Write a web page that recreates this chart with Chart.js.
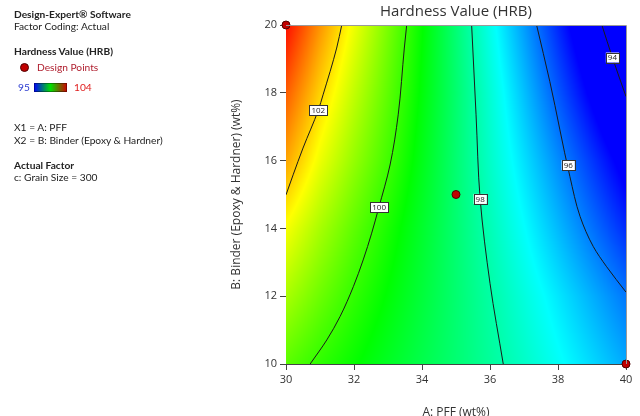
<!DOCTYPE html>
<html>
<head>
<meta charset="utf-8">
<script src="https://cdn.jsdelivr.net/npm/chart.js@4.4.1/dist/chart.umd.min.js"></script>
<style>
    html, body { margin: 0; padding: 0; width: 640px; height: 416px; overflow: hidden; background: #fff; }
    #wrap { position: relative; width: 640px; height: 424px; }
    #chart { position: absolute; left: 0; top: 0; }
    .side { position: absolute; left: 14px; font-family: Lato, "Open Sans", sans-serif; font-size: 10.2px; color: #222; white-space: nowrap; line-height: 12px; }
    .side b { font-weight: 700; }
    .dot { position: absolute; width: 9px; height: 9px; border-radius: 50%; background: #c00000; border: 1px solid #500000; box-sizing: border-box; }
    .bar { position: absolute; width: 33px; height: 9px; background: linear-gradient(90deg, #0000ff, #00e000 50%, #d00000); box-shadow: inset 0 0 0 1px rgba(0,0,0,0.35); }
</style>
</head>
<body>
<div id="wrap">
    <canvas id="chart" width="640" height="424"></canvas>
    <div class="side" style="top:8px"><b>Design-Expert® Software</b></div>
    <div class="side" style="top:20px">Factor Coding: Actual</div>
    <div class="side" style="top:45px"><b>Hardness Value (HRB)</b></div>
    <div class="dot" style="left:20px; top:63px"></div>
    <div class="side" style="top:61px; left:37px; color:#b02030">Design Points</div>
    <div class="side" style="top:81px; left:18px; color:#2a3ad0">95</div>
    <div class="bar" style="left:34px; top:83px"></div>
    <div class="side" style="top:81px; left:74px; color:#e02020">104</div>
    <div class="side" style="top:121px">X1 = A: PFF</div>
    <div class="side" style="top:134px">X2 = B: Binder (Epoxy &amp; Hardner)</div>
    <div class="side" style="top:159px"><b>Actual Factor</b></div>
    <div class="side" style="top:171px">c: Grain Size = 300</div>
</div>
<script>
// Response grid: hardness (HRB) at A = 30..40, rows for B = 10..20
const gridX = [30, 31, 32, 33, 34, 35, 36, 37, 38, 39, 40];
const gridY = [10, 12, 14, 16, 18, 20];
const hardness = [
    [100.30, 99.90, 99.55, 99.19, 98.84, 98.50, 98.14, 97.75, 97.33, 96.92, 96.50],
    [101.00, 100.45, 99.93, 99.46, 98.99, 98.52, 98.05, 97.55, 97.05, 96.55, 96.05],
    [101.70, 100.98, 100.33, 99.72, 99.12, 98.51, 97.90, 97.27, 96.64, 96.01, 95.37],
    [102.55, 101.60, 100.81, 100.07, 99.29, 98.51, 97.74, 96.99, 96.24, 95.49, 94.74],
    [103.20, 102.15, 101.21, 100.33, 99.43, 98.54, 97.63, 96.70, 95.77, 94.87, 93.96],
    [103.90, 102.70, 101.62, 100.58, 99.53, 98.48, 97.43, 96.39, 95.34, 94.30, 93.26]
];

// Contour lines, listed bottom to top
const contour102 = [{x: 30, y: 14.99}, {x: 30.21, y: 15.58}, {x: 30.5, y: 16.37}, {x: 30.95, y: 17.49}, {x: 31.09, y: 17.94}, {x: 31.49, y: 19.32}, {x: 31.64, y: 20}];
const contour100 = [{x: 30.71, y: 10}, {x: 31.2, y: 10.71}, {x: 31.59, y: 11.4}, {x: 31.98, y: 12.28}, {x: 32.27, y: 13.07}, {x: 32.52, y: 13.86}, {x: 32.72, y: 14.58}, {x: 33.06, y: 15.87}, {x: 33.3, y: 17.35}, {x: 33.48, y: 19.32}, {x: 33.55, y: 20}];
const contour98 = [{x: 36.39, y: 10}, {x: 36.0, y: 12.38}, {x: 35.71, y: 14.87}, {x: 35.59, y: 17.35}, {x: 35.46, y: 20}];
const contour96 = [{x: 40, y: 12.12}, {x: 39.43, y: 12.87}, {x: 39.04, y: 13.46}, {x: 38.65, y: 14.35}, {x: 38.35, y: 15.53}, {x: 37.76, y: 18.33}, {x: 37.37, y: 20}];
const contour94 = [{x: 40, y: 17.89}, {x: 39.6, y: 19.04}, {x: 39.29, y: 20}];
const contourLabels = [
    {x: 30.95, y: 17.49, text: '102'},
    {x: 32.74, y: 14.62, text: '100'},
    {x: 35.71, y: 14.87, text: '98'},
    {x: 38.3, y: 15.87, text: '96'},
    {x: 39.6, y: 19.04, text: '94'}
];

const designPoints = [{x: 30, y: 20}, {x: 35, y: 15}, {x: 40, y: 10}];

const xTicks = [30, 32, 34, 36, 38, 40];
const yTicks = [10, 12, 14, 16, 18, 20];

// blue -> cyan -> green -> yellow -> red over 95..104
const colorStops = [
    [95, [0, 0, 255]],
    [97.25, [0, 255, 255]],
    [99.5, [0, 255, 0]],
    [101.75, [255, 255, 0]],
    [104, [255, 0, 0]]
];

function colorFor(v) {
    if (v <= colorStops[0][0]) return colorStops[0][1];
    for (let i = 1; i < colorStops.length; i++) {
        if (v <= colorStops[i][0]) {
            const [v0, c0] = colorStops[i - 1];
            const [v1, c1] = colorStops[i];
            const t = (v - v0) / (v1 - v0);
            return [0, 1, 2].map(k => c0[k] + (c1[k] - c0[k]) * t);
        }
    }
    return colorStops[colorStops.length - 1][1];
}

function findCell(arr, v) {
    let i = 0;
    while (i < arr.length - 2 && v > arr[i + 1]) i++;
    const t = Math.min(1, Math.max(0, (v - arr[i]) / (arr[i + 1] - arr[i])));
    return [i, t];
}

function sample(xv, yv) {
    const [i, tx] = findCell(gridX, xv);
    const [j, ty] = findCell(gridY, yv);
    const a = hardness[j][i], b = hardness[j][i + 1];
    const c = hardness[j + 1][i], d = hardness[j + 1][i + 1];
    return (a * (1 - tx) + b * tx) * (1 - ty) + (c * (1 - tx) + d * tx) * ty;
}

// Paints the colour surface under the datasets
const surfacePlugin = {
    id: 'surface',
    beforeDatasetsDraw(chart) {
        const {ctx, chartArea: a, scales: {x, y}} = chart;
        const w = Math.round(a.right - a.left), h = Math.round(a.bottom - a.top);
        const off = document.createElement('canvas');
        off.width = w; off.height = h;
        const octx = off.getContext('2d');
        const img = octx.createImageData(w, h);
        for (let j = 0; j < h; j++) {
            const yv = y.getValueForPixel(a.top + j + 0.5);
            for (let i = 0; i < w; i++) {
                const xv = x.getValueForPixel(a.left + i + 0.5);
                const c = colorFor(sample(xv, yv));
                const p = (j * w + i) * 4;
                img.data[p] = c[0]; img.data[p + 1] = c[1]; img.data[p + 2] = c[2]; img.data[p + 3] = 255;
            }
        }
        octx.putImageData(img, 0, 0);
        ctx.drawImage(off, a.left, a.top);
    }
};

// Frame, contour value boxes and the plot title
const decorPlugin = {
    id: 'decor',
    afterDatasetsDraw(chart) {
        const {ctx, chartArea: a, scales: {x, y}} = chart;
        ctx.save();
        ctx.strokeStyle = '#9a9a9a';
        ctx.lineWidth = 1;
        ctx.beginPath();
        ctx.moveTo(a.left, a.top + 0.5);
        ctx.lineTo(a.right + 0.5, a.top + 0.5);
        ctx.lineTo(a.right + 0.5, a.bottom);
        ctx.stroke();

        ctx.font = '8px "Open Sans", sans-serif';
        ctx.textAlign = 'center';
        ctx.textBaseline = 'middle';
        contourLabels.forEach(l => {
            const px = x.getPixelForValue(l.x), py = y.getPixelForValue(l.y);
            const tw = ctx.measureText(l.text).width + 4;
            ctx.fillStyle = '#fff';
            ctx.fillRect(px - tw / 2, py - 5, tw, 10);
            ctx.strokeStyle = '#333';
            ctx.strokeRect(Math.round(px - tw / 2) + 0.5, Math.round(py - 5) + 0.5, Math.round(tw), 10);
            ctx.fillStyle = '#222';
            ctx.fillText(l.text, px, py + 0.5);
        });

        ctx.font = '15px "Open Sans", sans-serif';
        ctx.fillStyle = '#333';
        ctx.textBaseline = 'middle';
        ctx.fillText('Hardness Value (HRB)', (a.left + a.right) / 2, 12);
        ctx.restore();
    }
};

// contours run mostly up the plot, so interpolate along y
function contourSet(points) {
    return {
        type: 'line',
        indexAxis: 'y',
        data: points,
        borderColor: '#1a1a1a',
        borderWidth: 1,
        pointRadius: 0,
        cubicInterpolationMode: 'monotone',
        fill: false
    };
}

const tickFont = {family: '"Open Sans", sans-serif', size: 11};
const titleFont = {family: '"Open Sans", sans-serif', size: 12};

new Chart(document.getElementById('chart'), {
    type: 'scatter',
    data: {
        datasets: [
            contourSet(contour102),
            contourSet(contour100),
            contourSet(contour98),
            contourSet(contour96),
            contourSet(contour94),
            {
                type: 'scatter',
                data: designPoints,
                backgroundColor: '#c00000',
                borderColor: '#500000',
                borderWidth: 1,
                pointRadius: 4,
                clip: false
            }
        ]
    },
    options: {
        responsive: false,
        animation: false,
        devicePixelRatio: 1,
        layout: {padding: {left: 225, right: 14, top: 25, bottom: 0}},
        plugins: {
            legend: {display: false},
            tooltip: {enabled: false}
        },
        scales: {
            x: {
                type: 'linear',
                min: 30,
                max: 40,
                afterBuildTicks: s => { s.ticks = xTicks.map(v => ({value: v})); },
                afterFit: s => { s.height = 60; },
                ticks: {color: '#333', font: tickFont, padding: 3},
                grid: {drawOnChartArea: false, drawTicks: true, tickLength: 6, color: '#444'},
                border: {color: '#444'},
                title: {display: true, text: 'A: PFF (wt%)', color: '#333', font: titleFont, padding: {top: 4, bottom: 4}}
            },
            y: {
                type: 'linear',
                min: 10,
                max: 20,
                afterBuildTicks: s => { s.ticks = yTicks.map(v => ({value: v})); },
                afterFit: s => { s.width = 61; },
                ticks: {color: '#333', font: tickFont, padding: 3},
                grid: {drawOnChartArea: false, drawTicks: true, tickLength: 6, color: '#444'},
                border: {color: '#444'},
                title: {display: true, text: 'B: Binder (Epoxy & Hardner) (wt%)', color: '#333', font: titleFont, padding: {top: 4, bottom: 4}}
            }
        }
    },
    plugins: [surfacePlugin, decorPlugin]
});
</script>
</body>
</html>
